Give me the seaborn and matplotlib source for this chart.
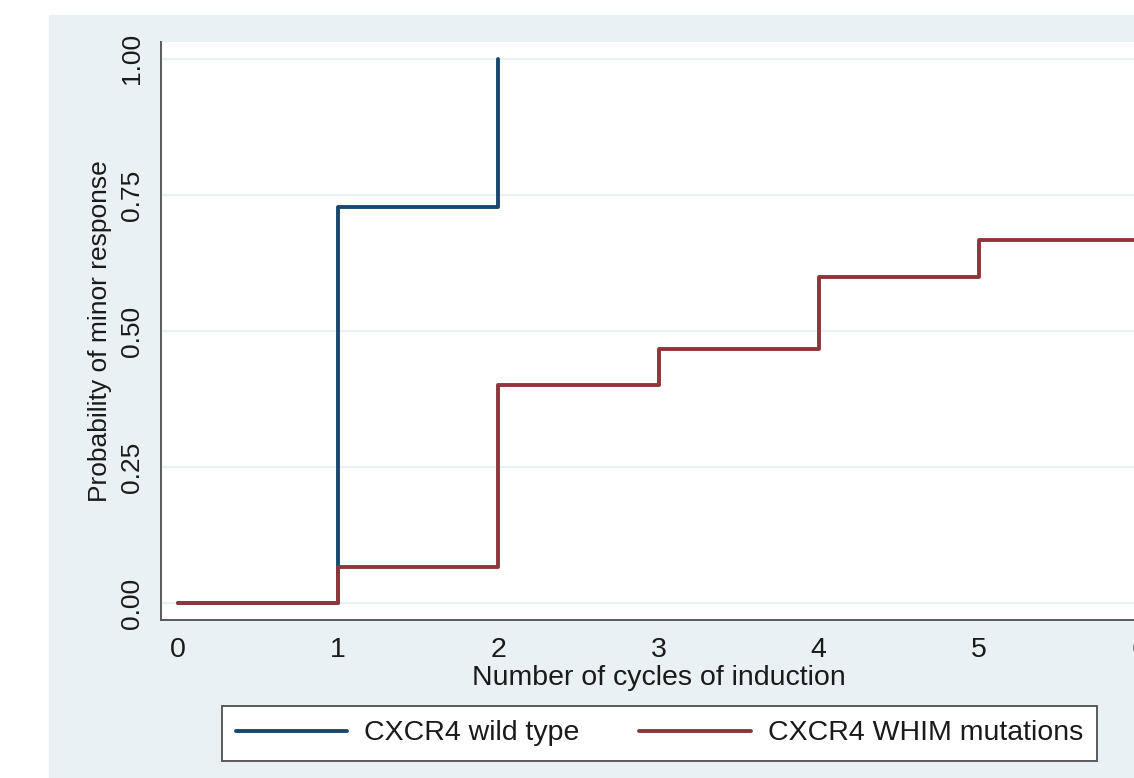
import pandas as pd
import matplotlib
import matplotlib.pyplot as plt
import seaborn as sns
from matplotlib.patches import Rectangle

matplotlib.use('Agg')

# Cumulative probability of minor response by cycle (step data)
cycles_wt = [0, 1, 2]
prob_wt = [0.0, 0.727, 1.0]
cycles_whim = [0, 1, 2, 3, 4, 5, 6]
prob_whim = [0.0, 0.067, 0.400, 0.467, 0.600, 0.667, 0.667]

groups = ['CXCR4 wild type', 'CXCR4 WHIM mutations']
colors = ['#1A476F', '#90353B']
x_ticks = [0, 1, 2, 3, 4, 5, 6]
y_ticks = [0.0, 0.25, 0.50, 0.75, 1.0]

df = pd.concat([
    pd.DataFrame({'cycles': cycles_wt, 'prob': prob_wt, 'group': groups[0]}),
    pd.DataFrame({'cycles': cycles_whim, 'prob': prob_whim, 'group': groups[1]}),
])

sns.set_style('white')
plt.rcParams['font.family'] = ['Liberation Sans', 'DejaVu Sans']

bg = '#EAF1F3'
axis_col = '#5a5a5a'
fs_x = 20.5   # horizontal texts
fs_y = 19     # rotated texts

fig = plt.figure(figsize=(11.34, 7.78), dpi=100, facecolor='white')
# Stata-like graph region behind everything
fig.patches.append(Rectangle((0.0432, 0), 1 - 0.0432, 0.9807, transform=fig.transFigure,
                             facecolor=bg, edgecolor='none', zorder=-10))

ax = fig.add_axes([0.142, 0.2031, 0.8774, 0.743])
ax.set_facecolor('white')

sns.lineplot(data=df, x='cycles', y='prob', hue='group', hue_order=groups,
             palette=colors, drawstyle='steps-post', estimator=None,
             linewidth=2.8, ax=ax, legend=False)

ax.set_xlim(-0.106, 6.106)
ax.set_ylim(-0.031, 1.031)
ax.set_xticks(x_ticks)
ax.set_xticklabels([str(t) for t in x_ticks], fontsize=fs_x)
ax.set_yticks(y_ticks)
ax.set_yticklabels([f'{t:.2f}' for t in y_ticks], rotation=90, va='center', fontsize=fs_y)

for y in y_ticks:
    ax.axhline(y, color=bg, linewidth=1.6, zorder=0)

for side in ['top', 'right']:
    ax.spines[side].set_visible(False)
for side in ['left', 'bottom']:
    ax.spines[side].set_color(axis_col)
    ax.spines[side].set_linewidth(1.4)

ax.tick_params(axis='both', direction='out', length=8, width=1.2, color=axis_col,
               labelcolor='#1a1a1a', pad=4)

ax.set_xlabel('Number of cycles of induction', fontsize=fs_x, color='#1a1a1a', labelpad=2)
ax.set_ylabel('Probability of minor response', fontsize=fs_y, color='#1a1a1a', labelpad=6)

handles = [plt.Line2D([], [], color=c, linewidth=2.8) for c in colors]
leg = fig.legend(handles, groups, loc='center', bbox_to_anchor=(0.5816, 0.0572), ncol=2,
                 frameon=True, fancybox=False, edgecolor=axis_col, facecolor='white',
                 framealpha=1, fontsize=fs_x, handlelength=3.9, handletextpad=0.6,
                 columnspacing=2.1, borderpad=0.5, borderaxespad=0)
leg.get_frame().set_linewidth(1.4)
for t in leg.get_texts():
    t.set_color('#1a1a1a')

plt.savefig('out.png', dpi=100, facecolor='white')
